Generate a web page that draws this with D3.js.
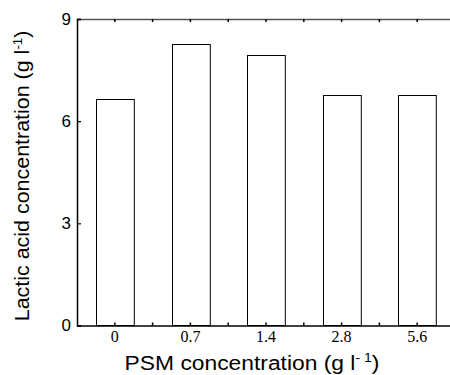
<!DOCTYPE html>
<html><head><meta charset="utf-8">
<script src="https://cdn.jsdelivr.net/npm/d3@7"></script>
<style>body{margin:0;background:#fff}svg{display:block}</style>
</head><body>
<svg id="c" width="450" height="375"></svg>
<script>
const categories = ["0", "0.7", "1.4", "2.8", "5.6"];
const lactic = [6.65, 8.26, 7.93, 6.78, 6.76];
const yTicks = [0, 3, 6, 9];

const svg = d3.select("#c");
const L = 77, R = 455, T = 19, B = 325.5;
const x = d3.scaleBand().domain(categories).range([L, R]).paddingInner(0.5).paddingOuter(0.25);
const y = d3.scaleLinear().domain([0, 9]).range([B, T]);

// bars
svg.append("g").selectAll("rect").data(lactic).join("rect")
  .attr("x", (d, i) => Math.round(x(categories[i])) + 0.5)
  .attr("y", d => Math.round(y(d)) + 0.5)
  .attr("width", x.bandwidth())
  .attr("height", d => B - Math.round(y(d)) - 0.5)
  .attr("fill", "#fff").attr("stroke", "#000").attr("stroke-width", 1);

// axes
const xb = svg.append("g").attr("transform", `translate(0,${B})`)
  .call(d3.axisBottom(x).tickSize(0).tickPadding(5));
xb.select(".domain").attr("stroke", "#000").attr("stroke-width", 1.5);
xb.selectAll("text").attr("font-family", "Liberation Serif, Times New Roman, serif").attr("font-size", 16).attr("fill", "#000");

const xt = svg.append("g").attr("transform", `translate(0,${T})`)
  .call(d3.axisTop(x).tickSize(0).tickFormat(""));
xt.select(".domain").attr("stroke", "#555").attr("stroke-width", 1.5);

// minor inward ticks at centers and midpoints
const tickPos = [];
categories.forEach(c => { const cx = x(c) + x.bandwidth() / 2; tickPos.push(cx, cx + x.step() / 2); });
svg.append("g").selectAll("line.tb").data(tickPos).join("line")
  .attr("x1", d => d).attr("x2", d => d).attr("y1", B).attr("y2", B - 3)
  .attr("stroke", "#000").attr("stroke-width", 1.5);
svg.append("g").selectAll("line.tt").data(tickPos).join("line")
  .attr("x1", d => d).attr("x2", d => d).attr("y1", T).attr("y2", T + 3)
  .attr("stroke", "#000").attr("stroke-width", 1.5);

const ya = svg.append("g").attr("transform", `translate(${L},0)`)
  .call(d3.axisLeft(y).tickValues(yTicks).tickSize(-4).tickPadding(6));
ya.select(".domain").attr("stroke", "#000").attr("stroke-width", 1.5);
ya.selectAll("line").attr("stroke", "#000").attr("stroke-width", 1.2);
ya.selectAll("text").attr("font-family", "Liberation Sans, Arial, sans-serif").attr("font-size", 17).attr("fill", "#000");

// y label
const yl = svg.append("text").attr("transform", "translate(29,176) rotate(-90) scale(1.1,1)")
  .attr("text-anchor", "middle").attr("font-family", "Liberation Sans, Arial, sans-serif")
  .attr("font-size", 19.5).attr("fill", "#000");
yl.append("tspan").text("Lactic acid concentration (g l");
yl.append("tspan").attr("font-size", 12).attr("dy", -7).text("-1");
yl.append("tspan").attr("dy", 7).text(")");

// x label
const xl = svg.append("text").attr("transform", "translate(252,370) scale(1.17,1)")
  .attr("text-anchor", "middle").attr("font-family", "Liberation Sans, Arial, sans-serif")
  .attr("font-size", 19.5).attr("fill", "#000");
xl.append("tspan").text("PSM concentration (g l");
xl.append("tspan").attr("font-size", 12).attr("dy", -8).text("-  1");
xl.append("tspan").attr("dy", 8).text(")");
</script>
</body></html>
